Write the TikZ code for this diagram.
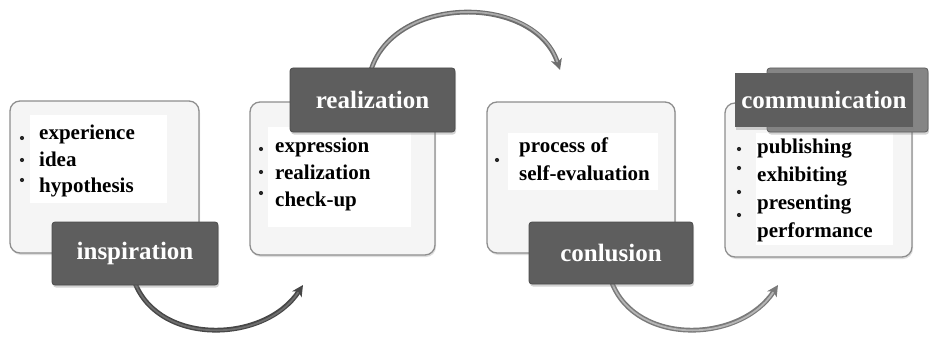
\documentclass[tikz,border=0pt]{standalone}
\usepackage{fontspec}
\setmainfont{Liberation Serif}
\usetikzlibrary{arrows.meta,shadows}
\definecolor{lightbox}{HTML}{F5F5F5}
\definecolor{boxline}{HTML}{8E8E8E}
\definecolor{labelfill}{HTML}{5E5E5E}
\definecolor{labelback}{HTML}{858585}
\definecolor{arcA}{HTML}{474747}
\definecolor{arcAin}{HTML}{6E6E6E}
\definecolor{arcB}{HTML}{6E6E6E}
\definecolor{arcBin}{HTML}{ABABAB}
\definecolor{arcC}{HTML}{7A7A7A}
\definecolor{arcCin}{HTML}{B5B5B5}
\tikzset{
  panel/.style={draw=boxline, line width=1.3pt, fill=lightbox, rounded corners=10pt,
    inner sep=0pt, drop shadow={opacity=0.25, shadow xshift=1pt, shadow yshift=-2pt}},
  whitearea/.style={fill=white, draw=none, inner sep=0pt},
  tag/.style={fill=labelfill, draw=labelfill!80!black, line width=0.8pt, rounded corners=3pt, inner sep=0pt,
    text=white, font=\fontsize{25}{28}\selectfont\bfseries,
    drop shadow={opacity=0.35, shadow xshift=1pt, shadow yshift=-2.5pt}},
  tagback/.style={fill=labelback, draw=labelback!70!black, line width=0.8pt, rounded corners=3pt, inner sep=0pt,
    drop shadow={opacity=0.35, shadow xshift=1pt, shadow yshift=-2.5pt}},
  item/.style={anchor=base west, inner sep=0pt, font=\fontsize{21}{27}\selectfont\bfseries, text=black},
  bullet/.style={circle, fill=black!85, inner sep=0pt, minimum size=4.2pt},
  flow/.style={line width=4.8pt, line cap=round, -{Stealth[length=11pt,width=11pt,inset=3pt]}},
  core/.style={postaction={draw=#1, line width=1.8pt, -, shorten >=9pt}},
}
\begin{document}
\begin{tikzpicture}[x=1pt,y=-1pt]
\useasboundingbox (0,0) rectangle (929,337);
% connector end points
\coordinate (e1) at (303,285);
\coordinate (e2) at (560,70);
\coordinate (e3) at (778,285);
% panels
\node[panel, minimum width=189pt, minimum height=152pt] (p1) at (104.5,177) {};
\node[panel, minimum width=185pt, minimum height=153pt] (p2) at (342.5,178.5) {};
\node[panel, minimum width=188pt, minimum height=151pt] (p3) at (581,177.5) {};
\node[panel, minimum width=187pt, minimum height=154pt] (p4) at (818.5,180) {};
% white text areas
\node[whitearea, minimum width=137pt, minimum height=88pt] (w1) at (98.5,159) {};
\node[whitearea, minimum width=143pt, minimum height=100pt] (w2) at (339.5,177) {};
\node[whitearea, minimum width=150pt, minimum height=57pt] (w3) at (583,161.5) {};
\node[whitearea, minimum width=137pt, minimum height=112pt] (w4) at (824.5,189) {};
% texts
\node[item] (t1a) at (39,139) {experience};
\node[item] (t1b) at (39,166) {idea};
\node[item] (t1c) at (39,192) {hypothesis};
\node[item] (t2a) at (275,152) {expression};
\node[item] (t2b) at (275,179) {realization};
\node[item] (t2c) at (275,206) {check-up};
\node[item] (t3a) at (519,152) {process of};
\node[item] (t3b) at (519,180) {self-evaluation};
\node[item] (t4a) at (757,153) {publishing};
\node[item] (t4b) at (757,181) {exhibiting};
\node[item] (t4c) at (757,209) {presenting};
\node[item] (t4d) at (757,237) {performance};
% bullets
\node[bullet] (b1a) at (22,138) {};
\node[bullet] (b1b) at (22,160) {};
\node[bullet] (b1c) at (22,180) {};
\node[bullet] (b2a) at (261,149) {};
\node[bullet] (b2b) at (261,172) {};
\node[bullet] (b2c) at (261,193) {};
\node[bullet] (b3a) at (497,160) {};
\node[bullet] (b4a) at (739,149) {};
\node[bullet] (b4b) at (739,168) {};
\node[bullet] (b4c) at (739,192) {};
\node[bullet] (b4d) at (739,215) {};
% connectors (behind labels)
\coordinate (s1) at (135,283);
\coordinate (s2) at (371,70);
\coordinate (s3) at (612,283);
\draw[flow, arcA, core=arcAin] (s1) .. controls (160,346) and (265,343) .. (e1);
\draw[flow, arcB, core=arcBin] (s2) .. controls (395,-6) and (535,-6) .. (e2);
\draw[flow, arcC, core=arcCin] (s3) .. controls (637,346) and (740,343) .. (e3);
% labels
\node[tag, minimum width=166pt, minimum height=63pt] (insp) at (135,253.5) {inspiration};
\node[tag, minimum width=165pt, minimum height=64pt] (real) at (372.5,100) {realization};
\node[tag, minimum width=164pt, minimum height=62pt] (conl) at (611,253) {conlusion};
\node[tagback, minimum width=161pt, minimum height=64pt] (commback) at (847.5,100) {};
\node[tag, rounded corners=0pt, draw=none, minimum width=178pt, minimum height=54pt] (comm) at (824,100) {communication};
\end{tikzpicture}
\end{document}
